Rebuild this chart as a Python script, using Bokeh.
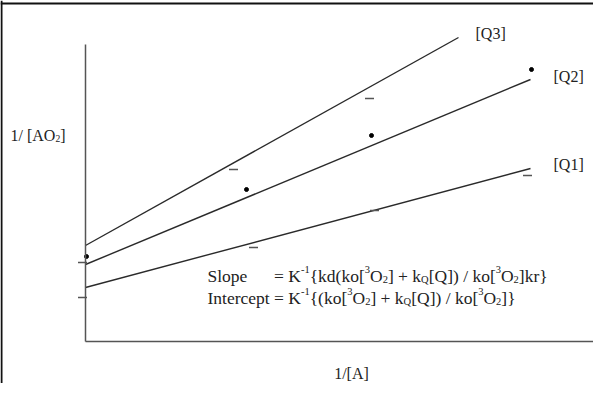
from bokeh.plotting import figure
from bokeh.models import ColumnDataSource, FixedTicker, LinearAxis, Range1d, Span
from bokeh.core.properties import value
from bokeh.embed import file_html
from bokeh.resources import INLINE

# ---- data (arbitrary units) ----
q1_x = [-0.03, 1.68, 2.89, 4.42]
q1_y = [0.44, 0.94, 1.31, 1.66]
q2_x = [0.01, 1.61, 2.86, 4.46]
q2_y = [0.85, 1.52, 2.06, 2.72]
q3_x = [-0.03, 1.48, 2.84]
q3_y = [0.79, 1.72, 2.43]

fit_q1_x = [0.0, 4.45]
fit_q1_y = [0.54, 1.73]
fit_q2_x = [0.0, 4.45]
fit_q2_y = [0.77, 2.62]
fit_q3_x = [0.0, 3.73]
fit_q3_y = [0.96, 3.04]

series_names = ["[Q3]", "[Q2]", "[Q1]"]
series_label_x = [3.90, 4.68, 4.68]
series_label_y = [3.08, 2.65, 1.77]

x_title = "1/[A]"
FONT = "Liberation Serif"
FS = 16.0      # labels
FS_EQ = 17.5   # formula

X0, X1 = -0.85, 5.08
Y0, Y1 = -0.42, 3.41

# Times / Liberation Serif advance widths (per 1000 em)
TW = {' ': 250, '(': 333, ')': 333, '[': 333, ']': 333, '{': 480, '}': 480, '=': 564,
      '+': 564, '/': 278, '-': 333, '1': 500, '2': 500, '3': 500, 'A': 722, 'I': 333,
      'K': 722, 'O': 722, 'Q': 722, 'S': 556, 'c': 444, 'd': 500, 'e': 444, 'k': 500,
      'l': 278, 'n': 500, 'o': 500, 'p': 500, 'r': 333, 't': 278}


def width(s, fs):
    return sum(TW.get(c, 500) for c in s) * fs / 1000.0


pieces = dict(x=[], y=[], text=[], dx=[], dy=[], size=[])


def add_run(x, y, segs, start_dx=0.0, fs=FS):
    dx = start_dx
    for txt, kind in segs:
        if kind == "n":
            s, off = fs, 0.0
        elif kind == "sup":
            s, off = fs * 0.6, -fs * 0.36
        else:
            s, off = fs * 0.6, fs * 0.2
        shown = txt.strip()
        lead = len(txt) - len(txt.lstrip())
        pieces["x"].append(x)
        pieces["y"].append(y)
        pieces["text"].append(shown)
        pieces["dx"].append(dx + width(" " * lead, s))
        pieces["dy"].append(off)
        pieces["size"].append(f"{s:.1f}px")
        dx += width(txt, s)
    return dx


eq_tail_1 = [("= K", "n"), ("-1", "sup"), ("{kd(ko[", "n"), ("3", "sup"), ("O", "n"),
             ("2", "sub"), ("] + k", "n"), ("Q", "sub"), ("[Q]) / ko[", "n"), ("3", "sup"),
             ("O", "n"), ("2", "sub"), ("]kr}", "n")]
eq_tail_2 = [("= K", "n"), ("-1", "sup"), ("{(ko[", "n"), ("3", "sup"), ("O", "n"),
             ("2", "sub"), ("] + k", "n"), ("Q", "sub"), ("[Q]) / ko[", "n"), ("3", "sup"),
             ("O", "n"), ("2", "sub"), ("]}", "n")]

eq_x0 = 1.22
eq_shift = width("Intercept ", FS_EQ)
add_run(eq_x0, 0.66, [("Slope", "n")], fs=FS_EQ)
add_run(eq_x0, 0.66, eq_tail_1, start_dx=eq_shift, fs=FS_EQ)
add_run(eq_x0, 0.44, [("Intercept", "n")], fs=FS_EQ)
add_run(eq_x0, 0.44, eq_tail_2, start_dx=eq_shift, fs=FS_EQ)
# y axis title
add_run(-0.75, 2.06, [("1/ [AO", "n"), ("2", "sub"), ("]", "n")])

p = figure(width=593, height=383, x_range=Range1d(X0, X1), y_range=Range1d(Y0, Y1),
           x_axis_type=None, y_axis_type=None, min_border=0,
           output_backend="svg", toolbar_location=None)
p.background_fill_color = "white"
p.border_fill_color = "white"
p.outline_line_color = None

# page frame: left and top edges
p.add_layout(Span(location=X0 + 0.01, dimension="height", line_color="#111111", line_width=2))
p.add_layout(Span(location=Y1 - 0.03, dimension="width", line_color="#111111", line_width=2))

for side, bnds in (("below", (0, 5.1)), ("left", (0, 2.97))):
    ax = LinearAxis(fixed_location=0, bounds=bnds, ticker=FixedTicker(ticks=[]))
    ax.axis_line_color = "#555555"
    ax.axis_line_width = 1.5
    ax.major_tick_out = 0
    ax.major_tick_in = 0
    ax.minor_tick_out = 0
    ax.minor_tick_in = 0
    ax.major_label_text_font_size = "0px"
    p.add_layout(ax, side)

line_col = "#2a2a2a"
p.line(fit_q3_x, fit_q3_y, line_color=line_col, line_width=1.4)
p.line(fit_q2_x, fit_q2_y, line_color=line_col, line_width=1.4)
p.line(fit_q1_x, fit_q1_y, line_color=line_col, line_width=1.4)

p.scatter(q2_x, q2_y, marker="circle", size=4, color="black")
p.scatter(q1_x, q1_y, marker="dash", size=9, line_color="#555555", line_width=1.5)
p.scatter(q3_x, q3_y, marker="dash", size=9, line_color="#555555", line_width=1.5)

p.text(series_label_x, series_label_y, text=series_names, text_font=value(FONT),
       text_font_size=f"{FS:.0f}px", text_baseline="middle", text_align="left",
       text_color="#222222")
p.text([2.66], [-0.32], text=[x_title], text_font=value(FONT),
       text_font_size=f"{FS:.0f}px", text_baseline="middle", text_align="center",
       text_color="#222222")

src = ColumnDataSource(pieces)
p.text(x="x", y="y", text="text", x_offset="dx", y_offset="dy", source=src,
       text_font=value(FONT), text_font_size="size", text_baseline="alphabetic",
       text_align="left", text_color="#222222")

open("out.html", "w").write(file_html(p, INLINE))
